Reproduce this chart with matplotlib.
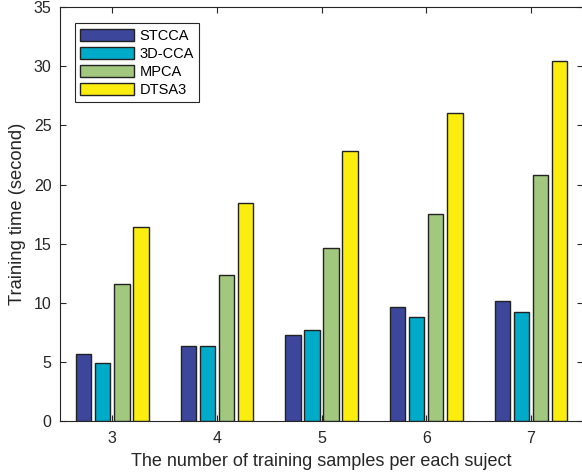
import matplotlib
matplotlib.use("Agg")
import matplotlib.pyplot as plt
from matplotlib.patches import Rectangle
from matplotlib.legend_handler import HandlerPatch
import numpy as np

plt.rcParams['font.family'] = ['Liberation Sans', 'DejaVu Sans']

# training samples per subject
samples = [3, 4, 5, 6, 7]
methods = ['STCCA', '3D-CCA', 'MPCA', 'DTSA3']
stcca = [5.66, 6.31, 7.27, 9.64, 10.17]
cca3d = [4.88, 6.31, 7.72, 8.82, 9.24]
mpca = [11.58, 12.37, 14.62, 17.52, 20.80]
dtsa3 = [16.45, 18.45, 22.88, 26.06, 30.49]

colors = ['#3c479b', '#00abc9', '#a2c77e', '#fbee0f']


# legend swatch with a bit of extra room on the left, like matlab
def swatch(legend, orig_handle, xdescent, ydescent, width, height, fontsize):
    return Rectangle((-xdescent + 5, -ydescent), width - 5, height)


fig = plt.figure(figsize=(5.82, 4.75), dpi=100)
ax = fig.add_axes([0.103, 0.1137, 0.899, 0.871])

x = np.array(samples, dtype=float)
offsets = [-0.273, -0.091, 0.091, 0.273]
for vals, off, c, name in zip([stcca, cca3d, mpca, dtsa3], offsets, colors, methods):
    ax.bar(x + off, vals, width=0.148, color=c, edgecolor='#222222',
           linewidth=1.0, label=name, zorder=2)

ax.set_xlim(2.5, 7.5)
ax.set_ylim(0, 35)
ax.set_xticks(samples)
ax.set_yticks(range(0, 36, 5))
ax.tick_params(direction='in', length=4, top=True, right=True,
               labelsize=11.5, colors='#262626', width=0.8)
ax.tick_params(axis='x', pad=7)
ax.tick_params(axis='y', pad=6)
for s in ax.spines.values():
    s.set_color('#262626')
    s.set_linewidth(0.8)

ax.set_xlabel('The number of training samples per each suject', fontsize=13,
              color='#262626', labelpad=5)
ax.set_ylabel('Training time (second)', fontsize=13.2, color='#262626', labelpad=6)

leg = ax.legend(loc='upper left', bbox_to_anchor=(0.029, 0.961), fontsize=10.5,
                fancybox=False, edgecolor='#262626', framealpha=1,
                handlelength=3.7, handleheight=0.9, labelspacing=0.27,
                borderpad=0.35, handletextpad=0.35, borderaxespad=0,
                handler_map={Rectangle: HandlerPatch(patch_func=swatch)})
leg.get_frame().set_linewidth(0.8)

fig.savefig('out.png', dpi=100)
